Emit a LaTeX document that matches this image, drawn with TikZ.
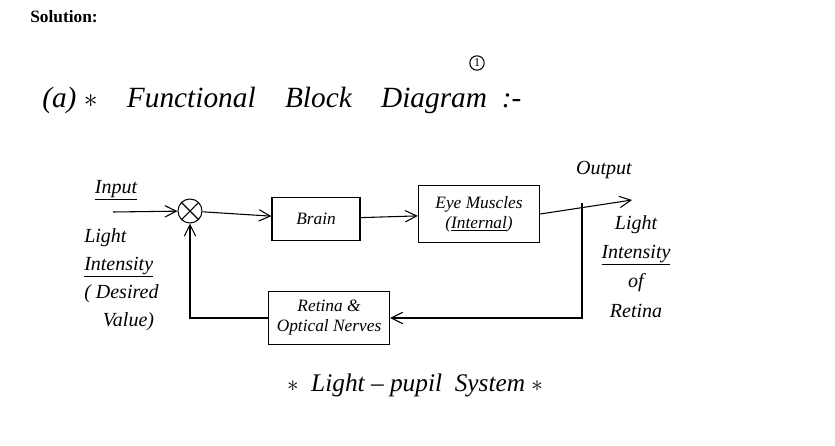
\documentclass[tikz,border=0pt]{standalone}
\usepackage{fontspec}
\setmainfont{Liberation Serif}
\usepackage{tikz}
\usetikzlibrary{positioning, arrows.meta, calc}
\tikzset{
  blk/.style   = {draw, thick, rectangle, align=center, inner sep=3pt,
                  font=\itshape\fontsize{13}{15}\selectfont},
  sum/.style   = {draw, thick, circle, minimum size=18pt, inner sep=0pt},
  ar/.style    = {thick, -{Straight Barb[length=3mm, width=3mm]}},
  ln/.style    = {thick},
  lbl/.style   = {font=\itshape\fontsize{15}{18}\selectfont, align=left, inner sep=0pt},
  ttl/.style   = {font=\itshape\fontsize{22}{26}\selectfont, inner sep=0pt},
}

\begin{document}
\begin{tikzpicture}[x=0.75pt, y=-0.75pt]
  \useasboundingbox (0,0) rectangle (835,446);
  \node[font=\bfseries\fontsize{13}{15}\selectfont, anchor=west, inner sep=0pt] (sol) at (30,17) {Solution:};
  \node[draw, thick, circle, inner sep=1.2pt, font=\small] (pg) at (477,63) {1};
  \node[ttl, anchor=west] (title) at (42,100) {(a) $\ast$\quad Functional\quad Block\quad Diagram\ \ :-};

  \node[sum] (s) at (190,211) {};
  \draw[ln] (s.45) -- (s.225) (s.135) -- (s.315);
  \node[blk, minimum width=66pt, minimum height=32pt] (brain) at (316,219) {Brain};
  \node[blk, minimum width=91pt, minimum height=43pt] (eye) at (479,214) {Eye Muscles\\(\underline{Internal})};
  \node[blk, minimum width=91pt, minimum height=40pt] (ret) at (329,318) {Retina \&\\Optical Nerves};
  \coordinate (in) at (113,212);
  \coordinate (out) at (632,200);
  \coordinate (br) at (582,203);

  \draw[ar] (in) -- (s);
  \draw[ar] (s) -- (brain);
  \draw[ar] (brain) -- (eye);
  \draw[ar] (eye.east) -- (out);
  \draw[ar] (br) |- (ret.east);
  \draw[ar] (ret.west) -| (s.south);

  \node[lbl] (inp) at (116,190) {\underline{Input}};
  \node[lbl, anchor=north west, font=\itshape\fontsize{15}{21}\selectfont] (des) at (84,228)
    {Light\\\underline{Intensity}\\( Desired\\\hspace*{14pt}Value)};
  \node[lbl] (outp) at (604,170) {Output};
  \node[lbl, align=center, anchor=north, font=\itshape\fontsize{15}{22}\selectfont] (lir) at (636,215)
    {Light\\\underline{Intensity}\\of\\Retina};
  \node[ttl, font=\itshape\fontsize{19}{22}\selectfont] (sys) at (415,385) {$\ast$\ \ Light -- pupil\ \ System $\ast$};
\end{tikzpicture}
\end{document}
